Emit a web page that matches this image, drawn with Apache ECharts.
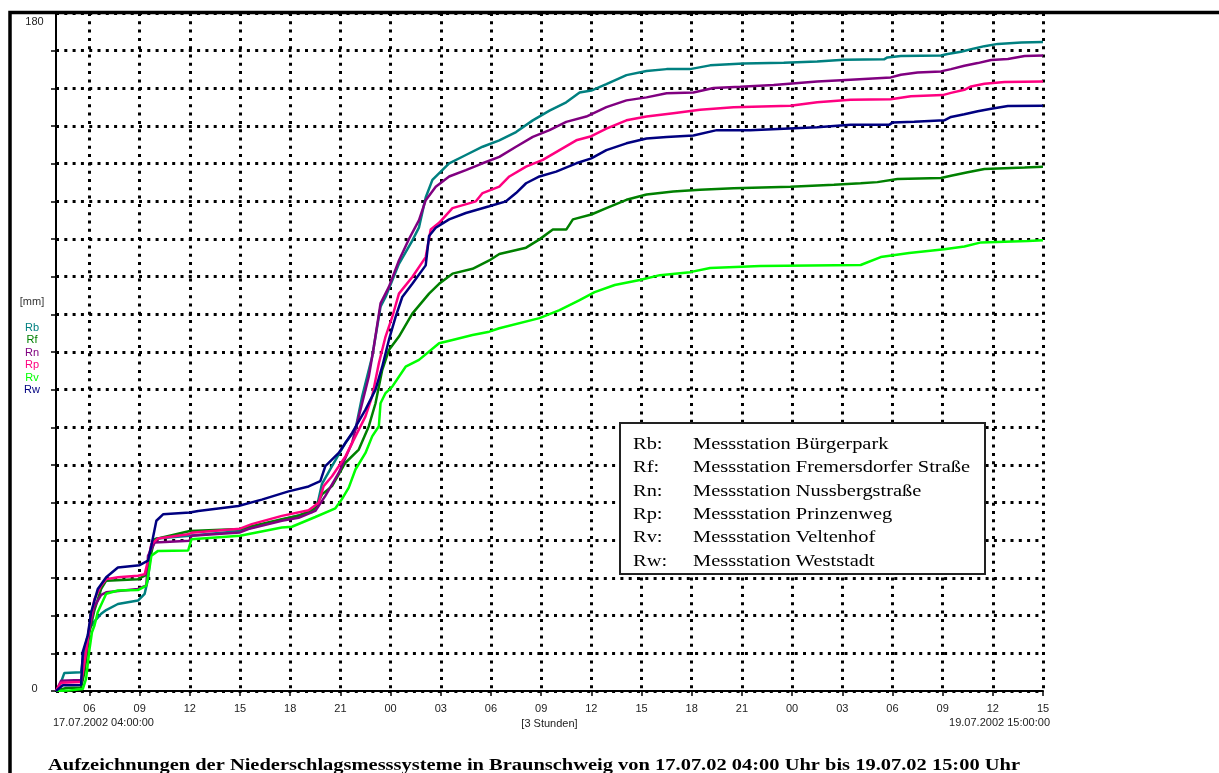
<!DOCTYPE html>
<html><head><meta charset="utf-8">
<script src="https://cdn.jsdelivr.net/npm/echarts@6/dist/echarts.min.js"></script>
<style>html,body{margin:0;padding:0;background:#fff}#c{width:1219px;height:773px}</style>
</head><body><div id="c"></div>
<script>
// hours since 17.07.2002 04:00
const rbTime = [0,0.2,0.5,1.5,1.6,1.75,2.0,2.3,2.7,3.0,3.7,4.9,5.3,5.5,5.7,6.0,8.0,11,13.5,15.3,15.6,15.9,16.5,17.3,17.9,18.3,18.9,19.4,19.7,20.5,21.3,21.7,22.1,22.5,23.5,24.5,25.5,26.5,27.5,28.5,29.5,30.5,31.3,32,32.9,34.1,35.3,36.5,37.9,39.1,41.1,43.5,45.5,47.1,49.5,49.7,50.5,52.9,53.3,54.1,54.9,55.5,56.3,57.7,59];
const rbMm   = [0,1.1,4.8,5.0,8.2,12,16.5,18.5,20.5,21.5,23.1,24,25.8,29.7,38,40.5,41.2,42.5,45.5,47.5,49,55,59.7,65.9,69.4,78.2,88.8,102,104.6,113.4,119.6,123.1,131,135.7,140.1,142.3,144.5,146.2,148.4,151.5,154.1,156.3,158.9,159.4,161.1,163.5,164.6,165.1,165.1,166.1,166.6,166.8,167.1,167.6,167.7,168.2,168.6,168.7,169.1,169.7,170.6,171.2,171.8,172.2,172.3];

const rfTime = [0,0.6,1.5,1.7,1.85,2.0,2.3,2.7,3.0,4.9,5.4,5.6,5.9,8.0,11,13.5,14.5,15.5,15.9,16.5,17.3,18.1,18.7,19.1,19.5,19.9,20.5,21.3,22.3,22.9,23.7,24.9,25.9,26.5,28.1,28.9,29.7,30.5,30.9,32,32.9,34.1,35.3,36.9,38.5,40.5,43.9,46.5,48.1,49.1,50.3,52.9,53.5,54.5,55.5,57.9,59];
const rfMm   = [0,0.8,0.9,5,10,15.6,21.5,27.1,29.3,29.7,30.8,35,40.3,42.5,43,45.6,46.5,48.5,52.2,54.4,60.6,64.1,70.3,76.4,85.2,90.5,94.1,100.2,105.5,108.1,110.8,112.1,114.3,116,117.7,119.9,122.5,122.5,125.2,126.5,128.2,130.4,131.8,132.6,133.1,133.5,133.9,134.4,134.8,135.1,135.9,136.2,136.8,137.7,138.6,139,139.2];

const rnTime = [0,0.3,1.5,1.65,1.85,2.0,2.3,2.7,3.0,4.9,5.4,5.5,5.9,8.0,8.1,11,11.5,13.5,14.5,15.5,16.1,16.9,17.7,18.3,18.7,19,19.4,19.9,20.5,21.1,21.7,22.1,22.7,23.5,24.5,25.5,26.5,27.5,28.5,29.5,30.5,31.7,32.9,34.1,35.3,36.5,38.1,39.3,40.9,42.9,45.5,47.5,49.9,50.5,51.5,52.9,53.5,54.3,55.1,55.9,56.9,57.9,59];
const rnMm   = [0,2.7,2.9,7,12,16.5,22.5,25.5,26.2,27.1,28,35.9,39.4,39.9,41.2,42.1,43,45.2,46,47.8,51.8,57.9,65.9,76.4,83.5,91.4,102.9,107.3,114.3,120,125,130.3,133.9,136.6,138.3,140.1,141.8,144.5,147.1,148.9,151.1,152.5,155,156.8,157.6,158.7,158.9,160.1,160.4,160.9,161.8,162.3,162.9,163.6,164.2,164.5,165.1,166,166.7,167.5,167.8,168.6,168.7];

const rpTime = [0,0.3,1.5,1.65,1.8,2.0,2.3,2.7,3.0,3.7,4.9,5.3,5.5,5.7,6.1,7.9,8.1,11,11.7,13.5,15.1,15.7,16.0,16.5,17.3,17.9,18.5,18.9,19.3,19.7,20.1,20.5,21.3,22.1,22.4,22.9,23.7,25.1,25.5,26.5,27.1,28.1,29.1,30.1,31.1,32,32.9,34.1,35.3,36.9,38.5,40.5,43.9,45.5,47.5,49.9,51.1,53,53.5,54.3,54.7,55.5,56.7,59];
const rpMm   = [0,2.2,2.4,6,10.4,17.4,24.4,28,29.7,30.2,30.6,31,34.6,39,40.5,41.6,42,43.1,44.3,46.5,48,50,54.4,57,62.3,67.6,72.9,78.2,87,94.1,99.3,105.5,109.9,115.2,122.5,124.3,128.2,130,132.2,133.9,136.6,139.2,141,143.6,146.2,147.3,149.3,151.5,152.5,153.4,154.3,155,155.4,156.3,157,157.1,157.9,158.2,158.8,159.6,160.5,161.2,161.7,161.8];

const rvTime = [0,0.7,1.6,1.8,2.0,2.15,2.3,2.5,3.0,3.7,4.9,5.4,5.6,5.7,6.1,7.9,8.1,11,13.5,14.1,15.5,16.7,17.1,17.5,17.9,18.5,18.9,19.3,19.4,19.7,20.1,20.9,21.7,22.9,23.7,24.9,25.9,26.5,28.9,30.1,31.3,32.2,33.4,34.9,36.1,37.9,39.1,42.1,48.1,49.3,51,53.1,54.3,55.3,58.1,59];
const rvMm   = [0,0.1,0.5,3.3,11,15.6,17.4,21,25.8,26.7,26.8,28,33,35.9,37.2,37.3,40.3,41.2,43.4,43.6,46.2,48.5,51,54,58.8,63.2,67.6,70.3,76.4,79.1,80.8,86.1,87.9,92.3,93.2,94.5,95.4,96.3,99,101.1,103.8,105.9,107.8,109.1,110.4,111.2,112.3,112.8,113.1,115.2,116.3,117.3,118,119.1,119.5,119.7];

const rwTime = [0,0.4,1.5,1.6,1.9,2.1,2.5,3.0,3.7,5.0,5.5,5.7,6.0,6.4,8.0,8.5,10.9,12.3,13.9,15.1,15.8,16.1,16.9,17.7,18.5,19.1,19.5,19.9,20.3,20.7,21.3,22.1,22.3,22.7,23.5,24.5,25.9,26.9,27.5,28.1,28.9,29.9,31.1,32,32.9,34.1,35.3,36.5,38.1,39.5,41.5,43.5,45.5,47.5,49.8,50,51.3,53.1,53.5,54.3,55.1,55.9,56.9,59];
const rwMm   = [0,1.5,1.6,10.4,14.8,20.9,27.1,30.2,32.8,33.4,34.6,38.6,45.2,46.9,47.4,47.8,49.1,50.8,53,54.3,55.7,59.7,63.2,68.5,74.7,80,86.1,93.2,99.3,104.6,108.1,113,120.8,123,125.2,126.9,128.7,130,132.2,134.8,136.6,137.9,140.1,141.4,143.6,145.4,146.7,147.1,147.5,148.9,148.9,149.3,149.7,150.3,150.3,150.9,151.1,151.5,152.4,153.1,153.9,154.6,155.3,155.4];

const seriesCodes = ['Rb','Rf','Rn','Rp','Rv','Rw'];
const seriesNames = ['Messstation Bürgerpark','Messstation Fremersdorfer Straße','Messstation Nussbergstraße','Messstation Prinzenweg','Messstation Veltenhof','Messstation Weststadt'];
const seriesColors = ['#008080','#008000','#800080','#ff0080','#00ff00','#000080'];
const seriesTimes = [rbTime, rfTime, rnTime, rpTime, rvTime, rwTime];
const seriesValues = [rbMm, rfMm, rnMm, rpMm, rvMm, rwMm];

const xTickHours = [2,5,8,11,14,17,20,23,26,29,32,35,38,41,44,47,50,53,56,59];
const xTickLabels = ['06','09','12','15','18','21','00','03','06','09','12','15','18','21','00','03','06','09','12','15'];
const yLabelValues = [0, 180];
const yLabelTexts = ['0', '180'];
const startLabel = '17.07.2002 04:00:00';
const endLabel = '19.07.2002 15:00:00';
const xName = '[3 Stunden]';
const yName = '[mm]';
const titleText = 'Aufzeichnungen der Niederschlagsmesssysteme in Braunschweig von 17.07.02 04:00 Uhr bis 19.07.02 15:00 Uhr';

const SANS = '"Liberation Sans", Arial, sans-serif';
const SERIF = '"Liberation Serif", "Times New Roman", serif';

function measure(text, font) {
  const c = document.createElement('canvas').getContext('2d');
  c.font = font; return c.measureText(text).width;
}

const chart = echarts.init(document.getElementById('c'), null, {renderer: 'canvas'});

const dotted = {color: '#000', width: 3, type: [3, 5.3]};

const graphics = [];
// frame
graphics.push({type: 'polyline', z: 100, shape: {points: [[10, 773], [10, 12.5], [1219, 12.5]]}, style: {stroke: '#000', lineWidth: 3.5, fill: null}});
// left label column
graphics.push({type: 'text', x: 32, y: 302, z: 50, style: {text: yName, font: '11px ' + SANS, fill: '#333', align: 'center', verticalAlign: 'middle', textAlign: 'center', textVerticalAlign: 'middle'}});
seriesCodes.forEach((c, i) => {
  graphics.push({type: 'text', x: 32, y: 327.5 + i * 12.5, z: 50, style: {text: c, font: '11px ' + SANS, fill: seriesColors[i], align: 'center', verticalAlign: 'middle', textAlign: 'center', textVerticalAlign: 'middle'}});
});
// x axis end labels
graphics.push({type: 'text', x: 53, y: 722.5, z: 50, style: {text: startLabel, font: '11px ' + SANS, fill: '#222', align: 'left', verticalAlign: 'middle', textAlign: 'left', textVerticalAlign: 'middle'}});
graphics.push({type: 'text', x: 1050, y: 722.5, z: 50, style: {text: endLabel, font: '11px ' + SANS, fill: '#222', align: 'right', verticalAlign: 'middle', textAlign: 'right', textVerticalAlign: 'middle'}});
// legend box
graphics.push({type: 'rect', z: 60, shape: {x: 620, y: 423, width: 365, height: 151}, style: {fill: '#fff', stroke: '#222', lineWidth: 2}});
const legFont = '16.5px ' + SERIF;
const legScale = 277 / measure(seriesNames[1], legFont);
seriesCodes.forEach((c, i) => {
  const y = 444.5 + i * 23.4;
  graphics.push({type: 'text', x: 633, y: y, z: 61, scaleX: legScale, style: {text: c + ':', font: legFont, fill: '#000', align: 'left', verticalAlign: 'middle', textAlign: 'left', textVerticalAlign: 'middle'}});
  graphics.push({type: 'text', x: 693, y: y, z: 61, scaleX: legScale, style: {text: seriesNames[i], font: legFont, fill: '#000', align: 'left', verticalAlign: 'middle', textAlign: 'left', textVerticalAlign: 'middle'}});
});
// title
const titleFont = 'bold 16.5px ' + SERIF;
const titleScale = 972 / measure(titleText, titleFont);
graphics.push({type: 'text', x: 48, y: 765.5, z: 50, scaleX: titleScale, style: {text: titleText, font: titleFont, fill: '#000', align: 'left', verticalAlign: 'middle', textAlign: 'left', textVerticalAlign: 'middle'}});

const option = {
  backgroundColor: '#fff',
  animation: false,
  grid: {left: 56, right: 176, top: 13, bottom: 82, containLabel: false},
  xAxis: {
    type: 'value', min: 0, max: 59,
    name: xName, nameLocation: 'middle', nameGap: 25,
    nameTextStyle: {fontSize: 11, fontFamily: SANS, color: '#222'},
    axisLine: {show: true, onZero: false, lineStyle: {color: '#000', width: 2}},
    axisTick: {show: true, customValues: xTickHours, length: 5, lineStyle: {color: '#000', width: 1.5}},
    axisLabel: {customValues: xTickHours, margin: 12, fontSize: 11, fontFamily: SANS, color: '#222',
      formatter: v => { const k = xTickHours.indexOf(v); return k >= 0 ? xTickLabels[k] : ''; }},
    splitLine: {show: true, lineStyle: dotted}
  },
  yAxis: {
    type: 'value', min: 0, max: 180, interval: 10,
    axisLine: {show: true, lineStyle: {color: '#000', width: 2}},
    axisTick: {show: true, length: 5, lineStyle: {color: '#000', width: 1.5}},
    axisLabel: {show: true, showMinLabel: true, showMaxLabel: true, margin: 21.5, align: 'center',
      fontSize: 11, fontFamily: SANS, color: '#222',
      formatter: v => { const k = yLabelValues.indexOf(v); if (k < 0) return ''; return (v === 180 ? '{t|' : '{b|') + yLabelTexts[k] + '}'; },
      rich: {t: {fontSize: 11, fontFamily: SANS, color: '#222', padding: [17, 0, 0, 0]}, b: {fontSize: 11, fontFamily: SANS, color: '#222', padding: [0, 0, 4, 0]}}},
    splitLine: {show: true, lineStyle: dotted}
  },
  series: seriesCodes.map((c, i) => ({
    name: c, type: 'line', symbol: 'none', smooth: false,
    lineStyle: {color: seriesColors[i], width: 2.5}, itemStyle: {color: seriesColors[i]},
    data: seriesTimes[i].map((t, j) => [t, seriesValues[i][j]]),
    z: 3
  })),
  graphic: {elements: graphics}
};
chart.setOption(option);
</script></body></html>
